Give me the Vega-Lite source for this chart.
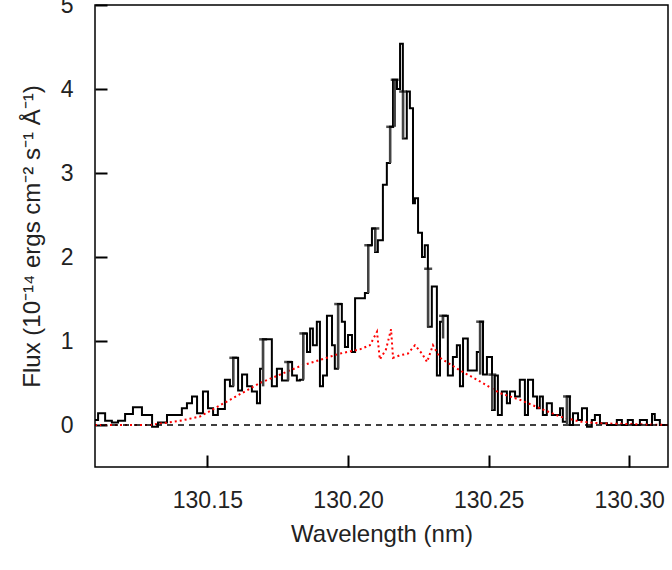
{
  "$schema": "https://vega.github.io/schema/vega-lite/v6.json",
  "width": 573,
  "height": 462,
  "autosize": "none",
  "padding": {"left": 95, "top": 5, "right": 4, "bottom": 103},
  "config": {
    "font": "Liberation Sans",
    "view": {"stroke": "black", "strokeWidth": 1.5},
    "axis": {"gridOpacity": 0, "domainOpacity": 0, "labelColor": "#222", "titleColor": "#222", "labelFontSize": 23, "titleFontSize": 24, "titleFontWeight": "normal"}
  },
  "datasets": {
    "obs": [
      {"w": 130.1100, "f": 0.06}, {"w": 130.1111, "f": 0.14}, {"w": 130.1136, "f": 0.05}, {"w": 130.1160, "f": 0.03},
      {"w": 130.1182, "f": 0.05}, {"w": 130.1207, "f": 0.13}, {"w": 130.1235, "f": 0.21}, {"w": 130.1267, "f": 0.12},
      {"w": 130.1303, "f": -0.02}, {"w": 130.1324, "f": 0.03}, {"w": 130.1356, "f": 0.12}, {"w": 130.1384, "f": 0.12},
      {"w": 130.1409, "f": 0.2}, {"w": 130.1427, "f": 0.26}, {"w": 130.1445, "f": 0.34}, {"w": 130.1463, "f": 0.14},
      {"w": 130.1484, "f": 0.4}, {"w": 130.1502, "f": 0.2}, {"w": 130.1520, "f": 0.12}, {"w": 130.1537, "f": 0.19},
      {"w": 130.1562, "f": 0.54}, {"w": 130.1580, "f": 0.46}, {"w": 130.1591, "f": 0.8}, {"w": 130.1609, "f": 0.41},
      {"w": 130.1623, "f": 0.6}, {"w": 130.1641, "f": 0.46}, {"w": 130.1658, "f": 0.4}, {"w": 130.1676, "f": 0.26},
      {"w": 130.1687, "f": 0.67}, {"w": 130.1697, "f": 1.02}, {"w": 130.1729, "f": 0.46}, {"w": 130.1747, "f": 0.67},
      {"w": 130.1765, "f": 0.53}, {"w": 130.1786, "f": 0.75}, {"w": 130.1801, "f": 0.59}, {"w": 130.1818, "f": 0.53},
      {"w": 130.1829, "f": 0.54}, {"w": 130.1840, "f": 1.09}, {"w": 130.1854, "f": 0.87}, {"w": 130.1865, "f": 1.15},
      {"w": 130.1875, "f": 0.95}, {"w": 130.1889, "f": 1.23}, {"w": 130.1900, "f": 0.46}, {"w": 130.1911, "f": 0.59},
      {"w": 130.1925, "f": 1.3}, {"w": 130.1943, "f": 0.95}, {"w": 130.1953, "f": 0.67}, {"w": 130.1964, "f": 1.44},
      {"w": 130.1978, "f": 1.23}, {"w": 130.1989, "f": 0.93}, {"w": 130.2000, "f": 1.07}, {"w": 130.2014, "f": 0.87},
      {"w": 130.2025, "f": 1.51}, {"w": 130.2042, "f": 1.51}, {"w": 130.2060, "f": 1.57}, {"w": 130.2071, "f": 2.14},
      {"w": 130.2085, "f": 2.34}, {"w": 130.2096, "f": 2.06}, {"w": 130.2106, "f": 2.2}, {"w": 130.2124, "f": 2.86},
      {"w": 130.2138, "f": 3.12}, {"w": 130.2149, "f": 3.55}, {"w": 130.2160, "f": 4.11}, {"w": 130.2174, "f": 4.0},
      {"w": 130.2185, "f": 4.54}, {"w": 130.2195, "f": 3.41}, {"w": 130.2209, "f": 3.97}, {"w": 130.2220, "f": 3.77},
      {"w": 130.2231, "f": 2.64}, {"w": 130.2238, "f": 2.7}, {"w": 130.2249, "f": 2.29}, {"w": 130.2263, "f": 2.0},
      {"w": 130.2273, "f": 2.14}, {"w": 130.2284, "f": 1.17}, {"w": 130.2298, "f": 1.65}, {"w": 130.2316, "f": 0.59},
      {"w": 130.2327, "f": 1.23}, {"w": 130.2337, "f": 1.3}, {"w": 130.2355, "f": 0.59}, {"w": 130.2373, "f": 0.81},
      {"w": 130.2387, "f": 0.95}, {"w": 130.2398, "f": 0.46}, {"w": 130.2409, "f": 1.03}, {"w": 130.2426, "f": 0.65},
      {"w": 130.2444, "f": 0.65}, {"w": 130.2458, "f": 0.87}, {"w": 130.2469, "f": 1.23}, {"w": 130.2480, "f": 0.6},
      {"w": 130.2494, "f": 0.81}, {"w": 130.2512, "f": 0.18}, {"w": 130.2522, "f": 0.59}, {"w": 130.2533, "f": 0.12},
      {"w": 130.2547, "f": 0.4}, {"w": 130.2565, "f": 0.26}, {"w": 130.2576, "f": 0.4}, {"w": 130.2594, "f": 0.34},
      {"w": 130.2611, "f": 0.54}, {"w": 130.2629, "f": 0.12}, {"w": 130.2640, "f": 0.54}, {"w": 130.2658, "f": 0.34},
      {"w": 130.2672, "f": 0.2}, {"w": 130.2682, "f": 0.34}, {"w": 130.2693, "f": 0.12}, {"w": 130.2707, "f": 0.26},
      {"w": 130.2725, "f": 0.12}, {"w": 130.2736, "f": 0.12}, {"w": 130.2754, "f": 0.2}, {"w": 130.2764, "f": 0.04},
      {"w": 130.2778, "f": 0.34}, {"w": 130.2789, "f": 0.0}, {"w": 130.2800, "f": 0.14}, {"w": 130.2818, "f": 0.06},
      {"w": 130.2832, "f": 0.2}, {"w": 130.2850, "f": -0.02}, {"w": 130.2867, "f": 0.06}, {"w": 130.2878, "f": 0.12},
      {"w": 130.2896, "f": 0.02}, {"w": 130.2921, "f": 0.0}, {"w": 130.2956, "f": 0.06}, {"w": 130.2974, "f": 0.0},
      {"w": 130.2995, "f": 0.06}, {"w": 130.3013, "f": 0.0}, {"w": 130.3038, "f": 0.06}, {"w": 130.3063, "f": 0.0},
      {"w": 130.3081, "f": 0.13}, {"w": 130.3091, "f": 0.06}, {"w": 130.3109, "f": 0.0}, {"w": 130.3138, "f": 0.0}
    ],
    "model": [
      {"w": 130.1100, "f": 0.0}, {"w": 130.1296, "f": 0.0}, {"w": 130.1402, "f": 0.05}, {"w": 130.1473, "f": 0.1},
      {"w": 130.1580, "f": 0.3}, {"w": 130.1687, "f": 0.5}, {"w": 130.1829, "f": 0.7}, {"w": 130.1971, "f": 0.85},
      {"w": 130.2042, "f": 0.9}, {"w": 130.2078, "f": 0.95}, {"w": 130.2103, "f": 1.11}, {"w": 130.2113, "f": 0.78},
      {"w": 130.2135, "f": 0.9}, {"w": 130.2153, "f": 1.14}, {"w": 130.2160, "f": 0.8}, {"w": 130.2185, "f": 0.83},
      {"w": 130.2213, "f": 0.85}, {"w": 130.2238, "f": 0.95}, {"w": 130.2263, "f": 0.85}, {"w": 130.2281, "f": 0.75},
      {"w": 130.2302, "f": 0.95}, {"w": 130.2327, "f": 0.8}, {"w": 130.2398, "f": 0.65}, {"w": 130.2469, "f": 0.52},
      {"w": 130.2540, "f": 0.38}, {"w": 130.2611, "f": 0.3}, {"w": 130.2682, "f": 0.2}, {"w": 130.2754, "f": 0.1},
      {"w": 130.2825, "f": 0.04}, {"w": 130.2896, "f": 0.02}, {"w": 130.3138, "f": 0.0}
    ],
    "err": [
      {"w": 130.1592, "lo": 0.46, "hi": 0.8}, {"w": 130.1698, "lo": 0.46, "hi": 1.02}, {"w": 130.1787, "lo": 0.53, "hi": 0.75},
      {"w": 130.1841, "lo": 0.54, "hi": 1.09}, {"w": 130.1965, "lo": 0.67, "hi": 1.44}, {"w": 130.2072, "lo": 1.57, "hi": 2.14},
      {"w": 130.2097, "lo": 2.06, "hi": 2.34}, {"w": 130.2150, "lo": 3.12, "hi": 3.55}, {"w": 130.2166, "lo": 3.55, "hi": 4.11},
      {"w": 130.2196, "lo": 3.41, "hi": 3.97}, {"w": 130.2285, "lo": 1.17, "hi": 1.86}, {"w": 130.2338, "lo": 1.03, "hi": 1.3},
      {"w": 130.2470, "lo": 0.6, "hi": 1.23}, {"w": 130.2513, "lo": 0.18, "hi": 0.6}, {"w": 130.2779, "lo": 0.0, "hi": 0.34}
    ],
    "zero": [{"f": 0}]
  },
  "layer": [
    {
      "data": {"name": "obs"},
      "mark": {"type": "line", "interpolate": "step-after", "color": "black", "strokeWidth": 2},
      "encoding": {
        "x": {"field": "w", "type": "quantitative", "scale": {"domain": [130.11, 130.3138], "nice": false, "zero": false},
          "axis": {"title": "Wavelength (nm)", "tickCount": 4, "format": ".2f", "offset": -12, "tickSize": 12, "tickColor": "black", "tickWidth": 2, "labelPadding": 22, "titlePadding": 10}},
        "y": {"field": "f", "type": "quantitative", "scale": {"domain": [-0.5, 5], "nice": false, "zero": false},
          "axis": {"title": "Flux (10⁻¹⁴ ergs cm⁻² s⁻¹ Å⁻¹)", "tickCount": 5, "format": "d", "offset": -12, "tickSize": 12, "tickColor": "black", "tickWidth": 2, "labelPadding": 22, "titlePadding": 16}}
      }
    },
    {
      "data": {"name": "model"},
      "mark": {"type": "line", "color": "red", "strokeWidth": 2, "strokeDash": [2, 3]},
      "encoding": {
        "x": {"field": "w", "type": "quantitative"},
        "y": {"field": "f", "type": "quantitative"}
      }
    },
    {
      "data": {"name": "zero"},
      "mark": {"type": "rule", "color": "black", "strokeWidth": 1.3, "strokeDash": [6, 5]},
      "encoding": {
        "y": {"field": "f", "type": "quantitative"}
      }
    },
    {
      "data": {"name": "err"},
      "mark": {"type": "rule", "color": "#444", "strokeWidth": 2.5},
      "encoding": {
        "x": {"field": "w", "type": "quantitative"},
        "y": {"field": "lo", "type": "quantitative"},
        "y2": {"field": "hi"}
      }
    },
    {
      "data": {"name": "err"},
      "mark": {"type": "tick", "orient": "horizontal", "color": "black", "size": 8, "thickness": 2.5},
      "encoding": {
        "x": {"field": "w", "type": "quantitative"},
        "y": {"field": "hi", "type": "quantitative"}
      }
    }
  ]
}
